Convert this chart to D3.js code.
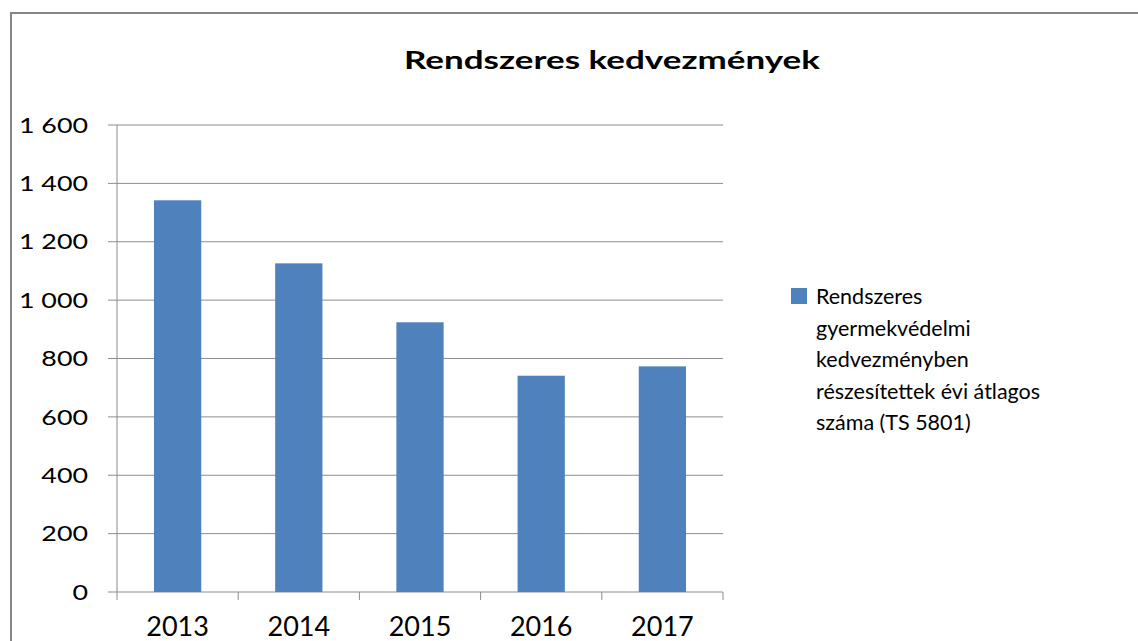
<!DOCTYPE html>
<html>
<head>
<meta charset="utf-8">
<script src="https://cdn.jsdelivr.net/npm/d3@7"></script>
<style>
  body { margin: 0; background: #fff; }
  text { font-family: Lato, 'Open Sans', sans-serif; fill: #000; }
</style>
</head>
<body>
<div id="chart"></div>
<script>
const years = ['2013', '2014', '2015', '2016', '2017']
const values = [1342, 1126, 924, 741, 773]
const yTicks = [0, 200, 400, 600, 800, 1000, 1200, 1400, 1600]
const title = 'Rendszeres kedvezmények'
const legendLines = [
  'Rendszeres',
  'gyermekvédelmi',
  'kedvezményben',
  'részesítettek évi átlagos',
  'száma (TS 5801)'
]

const W = 1138
const H = 641
const margin = { top: 125, left: 117, right: 415, bottom: 49 }
const width = W - margin.left - margin.right
const height = H - margin.top - margin.bottom

const svg = d3
  .select('#chart')
  .append('svg')
  .attr('width', W)
  .attr('height', H)

// outer frame, right and bottom edges fall outside the picture
svg
  .append('rect')
  .attr('x', 11)
  .attr('y', 13)
  .attr('width', W + 20)
  .attr('height', H + 20)
  .attr('fill', '#fff')
  .attr('stroke', '#868686')
  .attr('stroke-width', 2)

svg
  .append('text')
  .attr('x', 612)
  .attr('y', 69)
  .attr('text-anchor', 'middle')
  .attr('font-size', 25.5)
  .attr('font-weight', 'bold')
  .attr('textLength', 416)
  .attr('lengthAdjust', 'spacingAndGlyphs')
  .text(title)

const g = svg
  .append('g')
  .attr('transform', 'translate(' + margin.left + ',' + margin.top + ')')

const x = d3.scaleBand().domain(years).range([0, width]).paddingInner(0.61).paddingOuter(0.305)
const xb = d3.scaleBand().domain(years).range([0, width])
const y = d3.scaleLinear().domain([0, 1600]).range([height, 0])

// grid
g.selectAll('.grid')
  .data(yTicks)
  .enter()
  .append('line')
  .attr('class', 'grid')
  .attr('x1', -9)
  .attr('x2', width)
  .attr('y1', d => y(d))
  .attr('y2', d => y(d))
  .attr('stroke', '#8c8c8c')
  .attr('stroke-width', 1)

g.selectAll('.ylab')
  .data(yTicks)
  .enter()
  .append('text')
  .attr('class', 'ylab')
  .attr('transform', d => `translate(-29,${y(d)}) scale(1.22,1)`)
  .attr('dy', '0.35em')
  .attr('text-anchor', 'end')
  .attr('font-size', 22)
  .text(d => d3.format(',')(d).replace(',', ' '))

// bars
g.selectAll('.bar')
  .data(values)
  .enter()
  .append('rect')
  .attr('class', 'bar')
  .attr('x', (d, i) => x(years[i]))
  .attr('y', d => y(d))
  .attr('width', x.bandwidth())
  .attr('height', d => height - y(d))
  .attr('fill', '#4f81bd')

// y axis line
g.append('line')
  .attr('x1', 0)
  .attr('x2', 0)
  .attr('y1', 0)
  .attr('y2', height)
  .attr('stroke', '#8c8c8c')

// x ticks at band edges
g.selectAll('.xtick')
  .data(years.map(d => xb(d)).concat([width]))
  .enter()
  .append('line')
  .attr('class', 'xtick')
  .attr('x1', d => d)
  .attr('x2', d => d)
  .attr('y1', height)
  .attr('y2', height + 8)
  .attr('stroke', '#8c8c8c')

g.selectAll('.xlab')
  .data(years)
  .enter()
  .append('text')
  .attr('class', 'xlab')
  .attr('x', d => xb(d) + xb.bandwidth() / 2)
  .attr('y', height + 44)
  .attr('text-anchor', 'middle')
  .attr('font-size', 27)
  .text(d => d)

// legend
const lg = svg.append('g').attr('transform', 'translate(791,288)')
lg.append('rect')
  .attr('width', 16)
  .attr('height', 16)
  .attr('fill', '#4f81bd')
lg.selectAll('text')
  .data(legendLines)
  .enter()
  .append('text')
  .attr('x', 25)
  .attr('y', (d, i) => 16 + i * 31.6)
  .attr('font-size', 21.5)
  .text(d => d)
</script>
</body>
</html>
